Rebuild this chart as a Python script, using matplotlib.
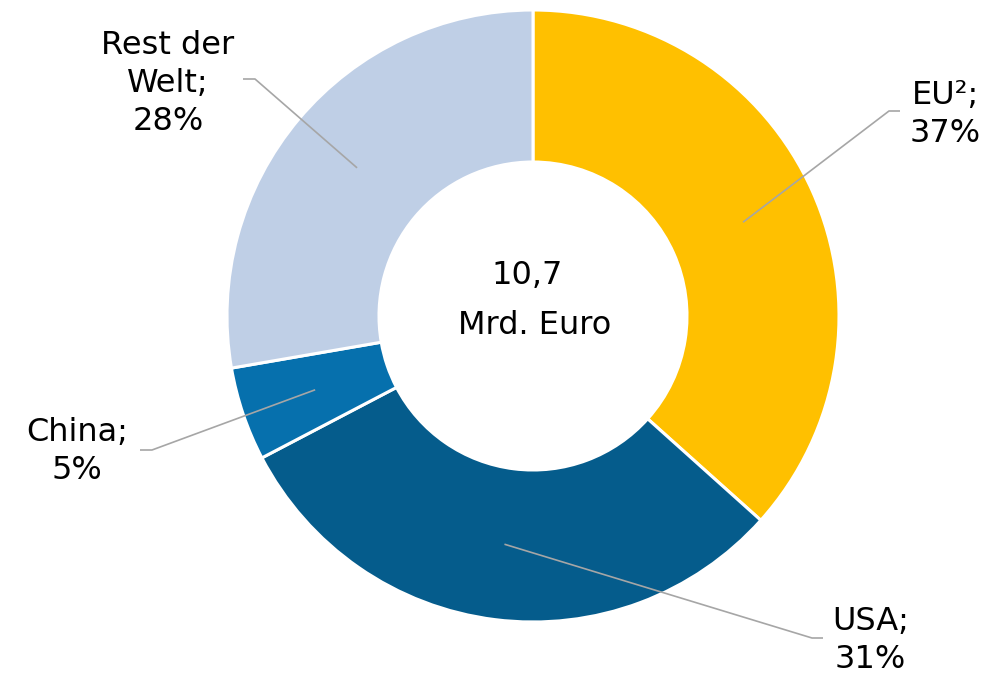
import numpy as np
import matplotlib
matplotlib.use('Agg')
import matplotlib.pyplot as plt

# export volume by region, share in percent
regions = ['EU²', 'USA', 'China', 'Rest der\nWelt']
shares = [37, 31, 5, 28]
colors = ['#FFC000', '#055C8C', '#0670AD', '#BFCFE6']

total_value = '10,7'
total_unit = 'Mrd. Euro'

# layout in pixel units (figure is 1005 x 673)
W, H = 1005, 673
cx, cy = 533, 357
r_out, ring = 306, 152

# label elbow points and text anchors (x, top y in pixels from bottom)
elbows = [(889, 562), (812, 35), (152, 223), (255, 594)]
stubs = [11, 11, -12, -12]
text_pos = [(910, 593, 'left'), (832, 67, 'left'), (128, 256, 'right'), (168, 643, 'center')]

fig = plt.figure(figsize=(W / 100, H / 100), dpi=100)
ax = fig.add_axes([0, 0, 1, 1])

wedges, _ = ax.pie(shares, colors=colors, startangle=90, counterclock=False,
                   radius=r_out, center=(cx, cy),
                   wedgeprops=dict(width=ring, edgecolor='white', linewidth=2.2))

r_mid = r_out - ring / 2
for w, name, pct, (ex, ey), stub, (tx, ty, ha) in zip(wedges, regions, shares, elbows, stubs, text_pos):
    ang = np.deg2rad((w.theta1 + w.theta2) / 2)
    sx = cx + r_mid * np.cos(ang)
    sy = cy + r_mid * np.sin(ang)
    ax.plot([sx, ex, ex + stub], [sy, ey, ey], color='#A6A6A6', lw=1.2,
            solid_capstyle='butt')
    ax.text(tx, ty, f'{name};\n{pct}%', ha=ha, va='top', multialignment='center',
            fontsize=23, linespacing=1.3, color='black')

ax.text(527, 389, total_value, ha='center', va='baseline', fontsize=23)
ax.text(535, 339, total_unit, ha='center', va='baseline', fontsize=23)

ax.set_xlim(0, W)
ax.set_ylim(0, H)
ax.set_aspect('equal')
ax.axis('off')

fig.savefig('out.png', dpi=100)
